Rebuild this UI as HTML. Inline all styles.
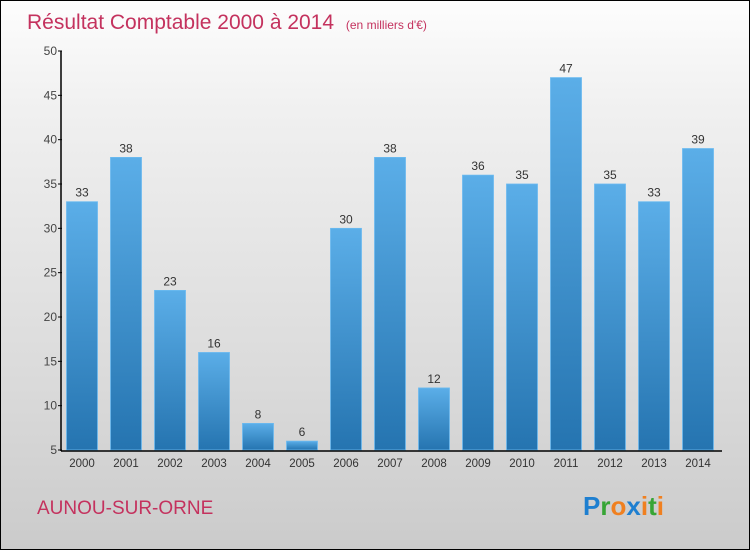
<!DOCTYPE html>
<html><head><meta charset="utf-8"><style>
html,body{margin:0;padding:0}
body{width:750px;height:550px;overflow:hidden;font-family:"Liberation Sans",sans-serif}
#wrap{position:relative;width:748px;height:548px;border:1px solid #000;background:linear-gradient(#fdfdfd,#f0f0f0 20%,#dadada 70%,#cbcbcb)}
</style></head><body>
<div id="wrap">
<svg id="chart" width="748" height="548" xmlns="http://www.w3.org/2000/svg">
<defs><linearGradient id="bg" x1="0" y1="0" x2="0" y2="1"><stop offset="0" stop-color="#5baee8"/><stop offset="1" stop-color="#2574b0"/></linearGradient></defs>
<text x="26" y="28" font-size="21" fill="#c4325e">Résultat Comptable 2000 à 2014 <tspan font-size="12" dx="6">(en milliers d'€)</tspan></text>
<g id="bars"></g>
<g id="axes"></g>
<text x="36" y="513" font-size="19" fill="#c4325e">AUNOU-SUR-ORNE</text>
<text x="582" y="514" font-size="26" font-weight="bold"><tspan fill="#1e7fd0">P</tspan><tspan fill="#37a535">r</tspan><tspan fill="#f08020">o</tspan><tspan fill="#1e7fd0">x</tspan><tspan fill="#f08020">i</tspan><tspan fill="#37a535">t</tspan><tspan fill="#f08020">i</tspan></text>
</svg></div>
<script>
const years=["2000","2001","2002","2003","2004","2005","2006","2007","2008","2009","2010","2011","2012","2013","2014"];
const values=[33,38,23,16,8,6,30,38,12,36,35,47,35,33,39];
const yTicks=[5,10,15,20,25,30,35,40,45,50];
const NS="http://www.w3.org/2000/svg";
const y=v=>449-(v-5)*(449-50)/45;
const x=i=>81+i*44;
const bars=document.getElementById('bars'),axes=document.getElementById('axes');
function mk(tag,attrs,parent){const e=document.createElementNS(NS,tag);for(const k in attrs)e.setAttribute(k,attrs[k]);parent.appendChild(e);return e;}
values.forEach((v,i)=>{
 const r=mk('rect',{x:x(i)-15.5,y:y(v),width:31,height:y(5)-y(v),fill:'url(#bg)',stroke:'#6bbaf0','stroke-width':0.8},bars);
 
 
 const t=mk('text',{x:x(i),y:y(v)-5,'font-size':12,fill:'#333','text-anchor':'middle'},bars);
 t.textContent=v;
 
 
 const xl=mk('text',{x:x(i),y:466,'font-size':11.5,fill:'#333','text-anchor':'middle'},axes);
 xl.textContent=years[i];
 
 
});
const ya=mk('line',{x1:60,y1:50,x2:60,y2:450,stroke:'#000','stroke-width':1.5},axes);


const xa=mk('line',{x1:60,y1:450,x2:721,y2:450,stroke:'#000','stroke-width':1.5},axes);


yTicks.forEach(v=>{
 mk('line',{x1:57,y1:y(v),x2:61,y2:y(v),stroke:'#000'},axes);
 const t=mk('text',{x:56,y:y(v)+4,'font-size':12,fill:'#444','text-anchor':'end'},axes);
 t.textContent=v;
 
 
});
</script>
</body></html>
